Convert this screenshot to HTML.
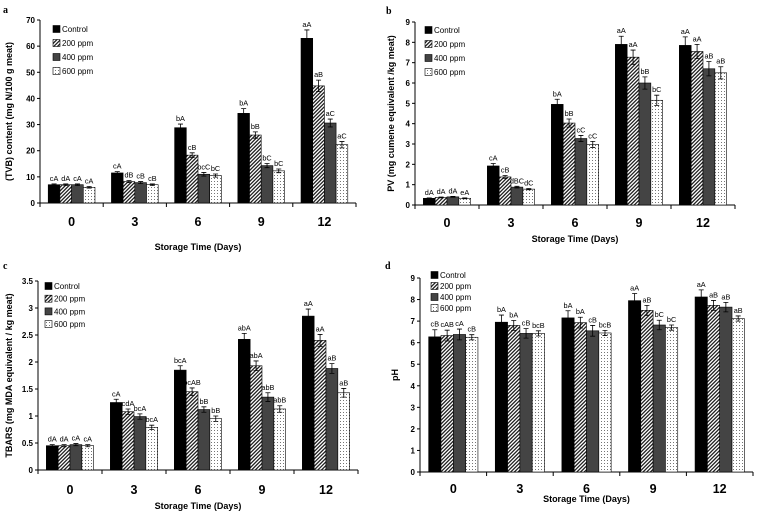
<!DOCTYPE html>
<html><head><meta charset="utf-8">
<style>
html,body{margin:0;padding:0;background:#fff;}
svg{display:block;font-family:"Liberation Sans",Arial,sans-serif;}
</style></head>
<body>
<svg id="chart" width="757" height="514" viewBox="0 0 757 514" xmlns="http://www.w3.org/2000/svg">
<defs>
<pattern id="hatch" patternUnits="userSpaceOnUse" width="2.6" height="2.6" patternTransform="rotate(45)">
<rect width="2.6" height="2.6" fill="#fff"/><rect width="1.3" height="2.6" fill="#222"/>
</pattern>
<pattern id="dots" patternUnits="userSpaceOnUse" width="3" height="3">
<rect width="3" height="3" fill="#fff"/><rect x="1" y="1" width="0.9" height="0.9" fill="#555"/>
</pattern>
</defs>
</svg>
<script>
const categories = ["0","3","6","9","12"];
const seriesNames = ["Control","200 ppm","400 ppm","600 ppm"];
// Panel a: TVB
const tvbControl = [7,11.5,28.8,34.3,63];
const tvb200 = [7,8.2,18.3,26,44.8];
const tvb400 = [7,7.8,11,14.3,30.6];
const tvb600 = [6,7,10.5,12.3,22.3];
const tvbErr = [[0.3,0.5,1.4,1.8,3.2],[0.3,0.4,0.9,1.2,2.2],[0.3,0.4,0.7,0.8,1.5],[0.3,0.3,0.6,0.7,1.2]];
const tvbLabels = [["cA","cA","bA","bA","aA"],["dA","dB","cB","bB","aB"],["cA","cB","bcC","bC","aC"],["cA","cB","bC","bC","aC"]];
const tvbTicks = [0,10,20,30,40,50,60,70];
// Panel b: PV
const pvControl = [0.33,1.92,4.95,7.9,7.85];
const pv200 = [0.37,1.38,4.03,7.27,7.55];
const pv400 = [0.4,0.88,3.27,6.0,6.7];
const pv600 = [0.33,0.78,2.98,5.15,6.5];
const pvErr = [[0.02,0.12,0.25,0.4,0.42],[0.02,0.07,0.2,0.35,0.35],[0.02,0.04,0.15,0.3,0.35],[0.02,0.03,0.15,0.25,0.3]];
const pvLabels = [["dA","cA","bA","aA","aA"],["dA","cB","bB","aA","aA"],["dA","dBC","cC","bB","aB"],["eA","dC","cC","bC","aB"]];
const pvTicks = [0,1,2,3,4,5,6,7,8,9];
// Panel c: TBARS
const tbControl = [0.45,1.25,1.85,2.42,2.85];
const tb200 = [0.45,1.08,1.45,1.93,2.4];
const tb400 = [0.47,0.99,1.12,1.35,1.88];
const tb600 = [0.45,0.79,0.95,1.13,1.43];
const tbErr = [[0.02,0.06,0.08,0.11,0.13],[0.02,0.05,0.07,0.09,0.11],[0.02,0.05,0.05,0.08,0.09],[0.02,0.04,0.05,0.06,0.08]];
const tbLabels = [["dA","cA","bcA","abA","aA"],["dA","cdA","bcAB","abA","aA"],["cA","bcA","bB","abB","aB"],["cA","bcA","bB","abB","aB"]];
const tbTicks = [0,0.5,1,1.5,2,2.5,3,3.5];
// Panel d: pH
const phControl = [6.27,6.95,7.15,7.95,8.12];
const ph200 = [6.33,6.8,6.93,7.5,7.73];
const ph400 = [6.38,6.43,6.55,6.82,7.65];
const ph600 = [6.25,6.43,6.45,6.7,7.12];
const phErr = [[0.33,0.33,0.33,0.33,0.33],[0.25,0.23,0.25,0.23,0.23],[0.25,0.22,0.25,0.22,0.22],[0.12,0.12,0.12,0.12,0.12]];
const phLabels = [["cB","bA","bA","aA","aA"],["cAB","bA","bA","aB","aB"],["cA","cB","cB","bC","aB"],["cB","bcB","bcB","bC","aB"]];
const phTicks = [0,1,2,3,4,5,6,7,8,9];

const NS="http://www.w3.org/2000/svg";
const svg=document.getElementById('chart');
const fills=["#000","url(#hatch)","#444","url(#dots)"];
function mk(tag,attrs,parent){const e=document.createElementNS(NS,tag);for(const k in attrs)e.setAttribute(k,attrs[k]);(parent||svg).appendChild(e);return e;}

function panel(cfg){
  const g=mk('g',{});
  
  
  const yS=v=>cfg.y0-(v/cfg.max)*(cfg.y0-cfg.yTop);
  const cw=(cfg.x1-cfg.x0)/categories.length;
  const xC=i=>cfg.x0+cw*(i+0.5);
  const bw=cw*0.185;
  const pl=mk('text',{x:cfg.lx,y:cfg.ly,'font-size':10,'font-weight':'bold','font-family':'Liberation Serif,serif'},g);pl.textContent=cfg.letter;
  
  
  const ya=mk('line',{x1:cfg.x0,y1:cfg.yTop,x2:cfg.x0,y2:cfg.y0,stroke:'#000','stroke-width':1},g);
  
  
  const xa=mk('line',{x1:cfg.x0,y1:cfg.y0,x2:cfg.x1,y2:cfg.y0,stroke:'#000','stroke-width':1},g);
  
  
  cfg.ticks.forEach(t=>{
    const y=yS(t);
    mk('line',{x1:cfg.x0-3,y1:y,x2:cfg.x0,y2:y,stroke:'#000'},g);
    const tl=mk('text',{x:cfg.x0-5,y:y+3,'font-size':8,'font-weight':'bold','text-anchor':'end'},g);
    tl.textContent=String(t);
    
    
  });
  for(let i=0;i<=categories.length;i++){
    const x=cfg.x0+cw*i;
    mk('line',{x1:x,y1:cfg.y0,x2:x,y2:cfg.y0+4,stroke:'#000'},g);
  }
  categories.forEach((c,i)=>{
    const t=mk('text',{x:xC(i),y:cfg.catY,'font-size':12.5,'font-weight':'bold','text-anchor':'middle'},g);
    t.textContent=c;
    
    
  });
  const xt=mk('text',{x:(cfg.x0+cfg.x1)/2,y:cfg.titleY,'font-size':9,'font-weight':'bold','text-anchor':'middle'},g);
  xt.textContent='Storage Time (Days)';
  
  
  const yt=mk('text',{x:0,y:0,'font-size':9,'font-weight':'bold','text-anchor':'middle','transform':`translate(${cfg.ytX},${(cfg.yTop+cfg.y0)/2}) rotate(-90)`,'xml:space':'preserve'},g);
  yt.textContent=cfg.yTitle;
  
  
  cfg.series.forEach((vals,s)=>{
    vals.forEach((v,i)=>{
      const x=xC(i)-2*bw+s*bw;
      const y=yS(v);
      const r=mk('rect',{x:x,y:y,width:bw,height:cfg.y0-y,fill:fills[s],stroke:'#000','stroke-width':0.6},g);
      
      
      const e=cfg.err[s][i];
      const cx=x+bw/2, yh=yS(v+e), yl=yS(v-e);
      const eb=mk('path',{d:`M${cx},${yh}V${yl}M${cx-2.5},${yh}H${cx+2.5}M${cx-2.5},${yl}H${cx+2.5}`,stroke:'#000','stroke-width':0.8,fill:'none'},g);
      
      
      const lt=mk('text',{x:cx,y:yh-3,'font-size':7.3,'text-anchor':'middle'},g);
      lt.textContent=cfg.labels[s][i];
      
      
    });
  });
  seriesNames.forEach((n,s)=>{
    const y=cfg.legY+s*cfg.legDy;
    const lg=mk('g',{},g);
    
    
    mk('rect',{x:cfg.legX,y:y-6.5,width:7,height:7,fill:fills[s],stroke:'#000','stroke-width':0.6},lg);
    const t=mk('text',{x:cfg.legX+9,y:y,'font-size':8},lg);
    t.textContent=n;
  });
}

panel({letter:'a',lx:3,ly:13,x0:40,x1:356,yTop:20,y0:203,max:70,ticks:tvbTicks,series:[tvbControl,tvb200,tvb400,tvb600],err:tvbErr,labels:tvbLabels,catY:226,titleY:250,ytX:12,yTitle:'(TVB) content  (mg N/100 g  meat)',legX:53,legY:32,legDy:14});
panel({letter:'b',lx:386,ly:14,x0:415,x1:735,yTop:22,y0:205,max:9,ticks:pvTicks,series:[pvControl,pv200,pv400,pv600],err:pvErr,labels:pvLabels,catY:227,titleY:242,ytX:394,yTitle:'PV   (mg cumene  equivalent /kg meat)',legX:425,legY:33,legDy:14});
panel({letter:'c',lx:3,ly:269,x0:38,x1:358,yTop:281,y0:470,max:3.5,ticks:tbTicks,series:[tbControl,tb200,tb400,tb600],err:tbErr,labels:tbLabels,catY:494,titleY:509,ytX:12,yTitle:'TBARS   (mg MDA equivalent / kg meat)',legX:45,legY:289,legDy:12.7});
panel({letter:'d',lx:385,ly:269,x0:420,x1:753,yTop:278,y0:472,max:9,ticks:phTicks,series:[phControl,ph200,ph400,ph600],err:phErr,labels:phLabels,catY:493,titleY:502,ytX:398,yTitle:'pH',legX:431,legY:278,legDy:11});
</script>
</body></html>
